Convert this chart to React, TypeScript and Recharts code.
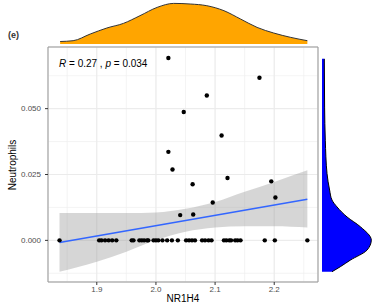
import React from 'react';
import {
  ComposedChart, AreaChart, Area, Line, Scatter, XAxis, YAxis,
  CartesianGrid, ReferenceArea,
} from 'recharts';

// ─── Data ────────────────────────────────────────────────────────────────────

const pointX = [
  1.837, 1.904, 1.908, 1.914, 1.920, 1.926, 1.933, 1.959, 1.962, 1.972, 1.976,
  1.980, 1.985, 1.987, 1.996, 2.000, 2.004, 2.011, 2.019, 2.027, 2.037, 2.051,
  2.056, 2.061, 2.066, 2.078, 2.083, 2.089, 2.094, 2.115, 2.119, 2.124, 2.127,
  2.134, 2.138, 2.143, 2.184, 2.201, 2.256,
  2.021, 2.175, 2.086, 2.047, 2.111, 2.021, 2.028, 2.121, 2.062, 2.195, 2.202,
  2.096, 2.041, 2.063,
];
const pointY = [
  0, 0, 0, 0, 0, 0, 0, 0, 0, 0, 0,
  0, 0, 0, 0, 0, 0, 0, 0, 0, 0, 0,
  0, 0, 0, 0, 0, 0, 0, 0, 0, 0, 0,
  0, 0, 0, 0, 0, 0,
  0.0692, 0.0617, 0.0550, 0.0487, 0.0398, 0.0336, 0.0269, 0.0237, 0.0213, 0.0224, 0.0163,
  0.0144, 0.0096, 0.0098,
];

const bandX  = [1.837, 1.90, 1.95, 2.00, 2.05, 2.10, 2.15, 2.20, 2.256];
const bandLo = [-0.0119, -0.0081, -0.0043, 0.0001, 0.0033, 0.0049, 0.0054, 0.0054, 0.0049];
const bandHi = [0.0104, 0.0104, 0.0104, 0.0106, 0.0120, 0.0146, 0.0185, 0.0222, 0.0266];

const fitX = [1.837, 2.256];
const fitY = [-0.0008, 0.0156];

const topX = [1.838, 1.860, 1.889, 1.917, 1.945, 1.973, 2.002, 2.030, 2.058, 2.086, 2.115, 2.143, 2.171, 2.199, 2.228, 2.256];
const topD = [0.25, 0.33, 1.0, 1.6, 2.06, 2.83, 3.66, 4.06, 4.0, 3.83, 3.33, 2.5, 1.66, 1.1, 0.66, 0.33];

const rightY = [0.0689, 0.0506, 0.0380, 0.0254, 0.0191, 0.0153, 0.0127, 0.0089, 0.0052, 0.0001, -0.0037, -0.0075, -0.0100, -0.0119];
const rightD = [0.23, 0.26, 0.33, 0.5, 0.76, 1.0, 1.5, 2.5, 3.83, 4.93, 4.5, 2.83, 1.83, 1.0];

const xMajor = [1.9, 2.0, 2.1, 2.2];
const xMinor = [1.85, 1.9, 1.95, 2.0, 2.05, 2.1, 2.15, 2.2, 2.25];
const yMajor = [0, 0.025, 0.05];
const yMinor = [-0.0125, 0, 0.0125, 0.025, 0.0375, 0.05, 0.0625];

// ─── Config ──────────────────────────────────────────────────────────────────

const X_DOM: [number, number] = [1.8175, 2.274];
const Y_DOM: [number, number] = [-0.0158, 0.0734];
const FONT = '"Liberation Sans", Arial, sans-serif';
const TICK = { fontSize: 8, fill: '#4d4d4d', fontFamily: FONT };

const rows = bandX.map((x, i) => {
  const k = fitX.indexOf(x);
  return { x, band: [bandLo[i], bandHi[i]], fit: k >= 0 ? fitY[k] : undefined };
});
const points = pointX.map((x, i) => ({ x, y: pointY[i] }));
const topRows = topX.map((x, i) => ({ x, d: topD[i] }));
const rightRows = rightY.map((y, i) => ({ y, d: rightD[i] }));

const Dot = (p: any) => <circle cx={p.cx} cy={p.cy} r={2.2} fill="#000" />;

export default function App() {
  return (
    <div style={{ position: 'absolute', left: 0, top: 0, width: 373, height: 306, background: '#fff', fontFamily: FONT }}>
      {/* top marginal density */}
      <div style={{ position: 'absolute', left: 0, top: 0 }}>
        <AreaChart width={373} height={50} data={topRows} margin={{ top: 2, right: 55, left: 48, bottom: 6 }}>
          <XAxis dataKey="x" type="number" domain={X_DOM} allowDataOverflow hide />
          <YAxis type="number" domain={[0, 4.2]} allowDataOverflow hide />
          <Area type="monotone" dataKey="d" stroke="#333" strokeWidth={1} fill="#FFA500" fillOpacity={1} isAnimationActive={false} />
        </AreaChart>
      </div>

      {/* main scatter panel */}
      <div style={{ position: 'absolute', left: 0, top: 0 }}>
        <ComposedChart width={373} height={306} data={rows} margin={{ top: 47, right: 55, left: 0, bottom: 0 }}>
          <XAxis xAxisId="minor" dataKey="x" type="number" domain={X_DOM} ticks={xMinor} allowDataOverflow hide />
          <YAxis yAxisId="minor" type="number" domain={Y_DOM} ticks={yMinor} allowDataOverflow hide />
          <CartesianGrid xAxisId="minor" yAxisId="minor" stroke="#efefef" strokeWidth={0.7} />
          <XAxis dataKey="x" type="number" domain={X_DOM} ticks={xMajor} allowDataOverflow height={24}
            tickFormatter={(v: number) => v.toFixed(1)} tick={TICK} axisLine={false}
            tickLine={{ stroke: '#333' }} tickSize={3} tickMargin={1} />
          <YAxis type="number" domain={Y_DOM} ticks={yMajor} allowDataOverflow width={48}
            tickFormatter={(v: number) => v.toFixed(3)} tick={TICK} axisLine={false}
            tickLine={{ stroke: '#333' }} tickSize={3} tickMargin={4} />
          <CartesianGrid stroke="#ebebeb" strokeWidth={1} />
          <Area dataKey="band" type="monotone" stroke="none" fill="#999999" fillOpacity={0.4} isAnimationActive={false} />
          <Line dataKey="fit" type="linear" stroke="#3366FF" strokeWidth={1.6} dot={false} connectNulls isAnimationActive={false} />
          <Scatter data={points} dataKey="y" shape={Dot} isAnimationActive={false} />
          <ReferenceArea x1={X_DOM[0]} x2={X_DOM[1]} y1={Y_DOM[0]} y2={Y_DOM[1]} fill="none" stroke="#999" strokeWidth={1} ifOverflow="visible" />
        </ComposedChart>
      </div>

      {/* right marginal density */}
      <div style={{ position: 'absolute', left: 0, top: 0 }}>
        <AreaChart width={373} height={306} data={rightRows} layout="vertical" margin={{ top: 47, right: 1, left: 322, bottom: 24 }}>
          <XAxis type="number" domain={[0, 5]} allowDataOverflow hide />
          <YAxis dataKey="y" type="number" domain={Y_DOM} allowDataOverflow hide reversed />
          <Area type="monotone" dataKey="d" stroke="#000" strokeWidth={1} fill="#0000FF" fillOpacity={1} isAnimationActive={false} />
        </AreaChart>
      </div>

      {/* texts */}
      <div style={{ position: 'absolute', left: 8, top: 30, fontSize: 9, fontWeight: 'bold', color: '#333' }}>(e)</div>
      <div style={{ position: 'absolute', left: 59, top: 58, fontSize: 10, color: '#000', whiteSpace: 'nowrap' }}>
        <i>R</i> = 0.27 , <i>p</i> = 0.034
      </div>
      <div style={{ position: 'absolute', left: 12, top: 165, fontSize: 10, color: '#000', whiteSpace: 'nowrap', transform: 'translate(-50%, -50%) rotate(-90deg)' }}>
        Neutrophils
      </div>
      <div style={{ position: 'absolute', left: 183, top: 298, fontSize: 10, color: '#000', whiteSpace: 'nowrap', transform: 'translate(-50%, -50%)' }}>
        NR1H4
      </div>
    </div>
  );
}
